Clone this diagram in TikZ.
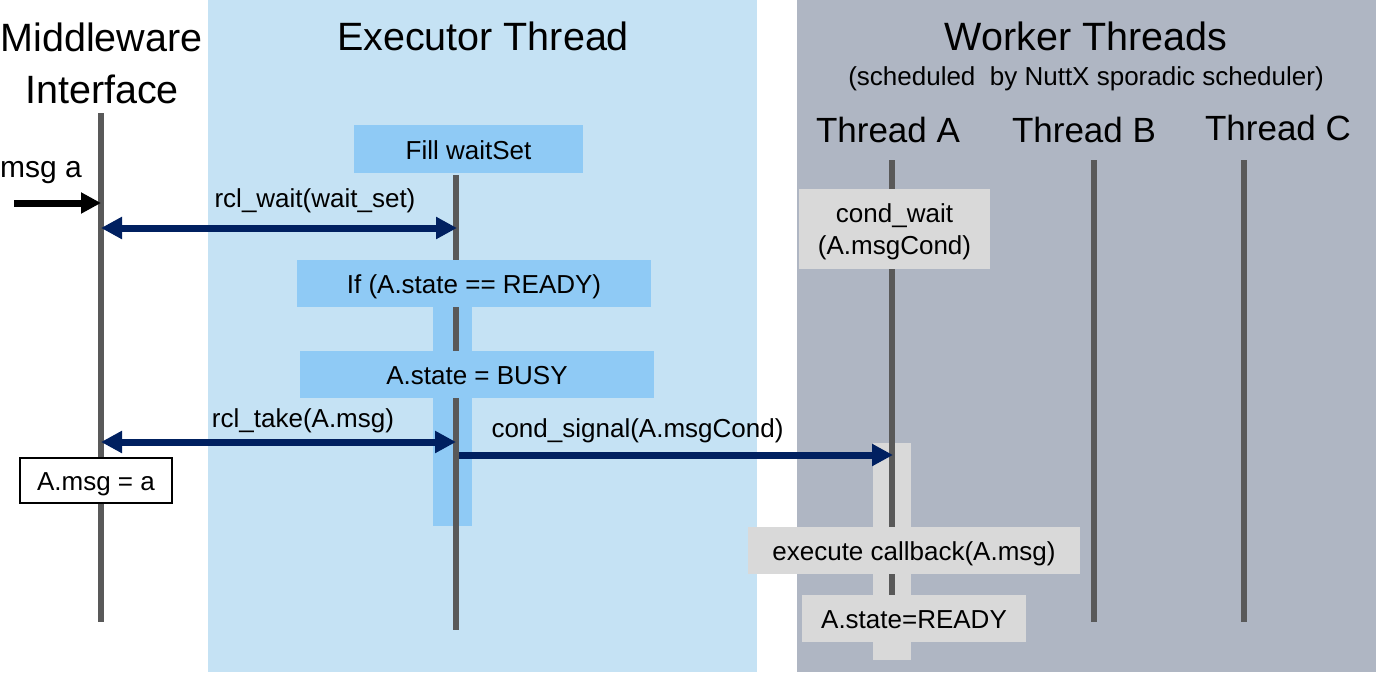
\documentclass[tikz,border=0pt]{standalone}
\usepackage{fontspec}
\setmainfont{Liberation Sans}
\usetikzlibrary{arrows.meta}
\definecolor{execbg}{RGB}{197,226,244}
\definecolor{workbg}{RGB}{175,182,195}
\definecolor{boxblue}{RGB}{143,202,245}
\definecolor{boxgrey}{RGB}{217,217,217}
\definecolor{lifegrey}{RGB}{89,89,89}
\definecolor{navyblue}{RGB}{0,32,96}
\begin{document}
\begin{tikzpicture}[x=1pt,y=-1pt,
  title/.style={font=\fontsize{39.5}{44}\selectfont, inner sep=0, anchor=base},
  subtitle/.style={font=\fontsize{26}{30}\selectfont, inner sep=0, anchor=base},
  thr/.style={font=\fontsize{35}{40}\selectfont, inner sep=0, anchor=base},
  lbl/.style={font=\fontsize{26}{30}\selectfont, inner sep=0, anchor=base},
  life/.style={draw=lifegrey, line width=6pt},
  boxtext/.style={font=\fontsize{26}{32}\selectfont, inner sep=0, align=center},
  oneline/.style={text height=23.4pt, text depth=2.6pt},
  bluebox/.style={boxtext, oneline, fill=boxblue},
  greybox/.style={boxtext, fill=boxgrey},
  whitebox/.style={boxtext, oneline, fill=white, draw=black, line width=1.5pt},
  msgarrow/.style={draw=navyblue, line width=7pt, -{Triangle[length=21pt,width=21pt]}, shorten >=-1pt},
  dblarrow/.style={draw=navyblue, line width=7pt, {Triangle[length=21pt,width=21pt]}-{Triangle[length=21pt,width=21pt]}},
  inarrow/.style={draw=black, line width=7pt, -{Triangle[length=20pt,width=20pt]}}
]
\useasboundingbox (0,0) rectangle (1376,672);
% bands
\fill[execbg] (208,0) rectangle (757,672);
\fill[workbg] (797,0) rectangle (1376,672);
% activation bars
\fill[boxblue] (433,307) rectangle (472,526);
\fill[boxgrey] (873,443) rectangle (911,660);
% lifeline end points
\coordinate (mwtop) at (101,113);
\coordinate (mwbot) at (101,622);
\coordinate (extop) at (456,175);
\coordinate (exbot) at (456,630);
\coordinate (atop) at (892,160);
\coordinate (abot) at (892,620);
\coordinate (btop) at (1094,160);
\coordinate (bbot) at (1094,622);
\coordinate (ctop) at (1244,160);
\coordinate (cbot) at (1244,622);
\draw[life] (mwtop) -- (mwbot);
\draw[life] (extop) -- (exbot);
\draw[life] (atop) -- (abot);
\draw[life] (btop) -- (bbot);
\draw[life] (ctop) -- (cbot);
% boxes
\node[bluebox, minimum width=229pt, minimum height=48pt] (fill) at (468.5,149) {Fill waitSet};
\node[bluebox, minimum width=354pt, minimum height=47pt] (ifready) at (474,283.5) {If (A.state == READY)};
\node[bluebox, minimum width=354pt, minimum height=47pt] (busy) at (477,374.5) {A.state = BUSY};
\node[whitebox, minimum width=152pt, minimum height=45pt] (amsg) at (96,480.5) {A.msg = a};
\node[greybox, minimum width=191pt, minimum height=80pt] (condwait) at (894.5,229) {\rule{0pt}{25pt}cond\_wait\\(A.msgCond)};
\node[greybox, oneline, minimum width=332pt, minimum height=47pt] (callback) at (914,550.5) {execute callback(A.msg)};
\node[greybox, oneline, minimum width=224pt, minimum height=47pt] (ready) at (914,618.5) {A.state=READY};
% titles
\node[title] (mw1) at (101.5,51) {Middleware};
\node[title] (mw2) at (102,103) {Interface};
\node[title] (exec) at (483,50) {Executor Thread};
\node[title] (work) at (1086,50) {Worker Threads};
\node[subtitle] (sched) at (1086,85) {(scheduled\ \ by NuttX sporadic scheduler)};
\node[thr] (tha) at (888,142.5) {Thread A};
\node[thr] (thb) at (1084,142.5) {Thread B};
\node[thr] (thc) at (1278,140) {Thread C};
% messages
\node[font=\fontsize{30}{34}\selectfont, inner sep=0, anchor=base] (msga) at (41,177) {msg a};
\coordinate (msgstart) at (14,203);
\coordinate (mwin) at (101,203);
\draw[inarrow] (msgstart) -- (mwin);
\coordinate (mwwait) at (101,228);
\coordinate (exwait) at (457,228);
\draw[dblarrow] (mwwait) -- (exwait);
\node[lbl] (lwait) at (315,207) {rcl\_wait(wait\_set)};
\coordinate (mwtake) at (101,442);
\coordinate (extake) at (456,442);
\draw[dblarrow] (mwtake) -- (extake);
\node[lbl] (ltake) at (303,427) {rcl\_take(A.msg)};
\coordinate (exsig) at (459,455);
\coordinate (asig) at (892,455);
\draw[msgarrow] (exsig) -- (asig);
\node[lbl] (lsig) at (637.5,437) {cond\_signal(A.msgCond)};
\end{tikzpicture}
\end{document}
